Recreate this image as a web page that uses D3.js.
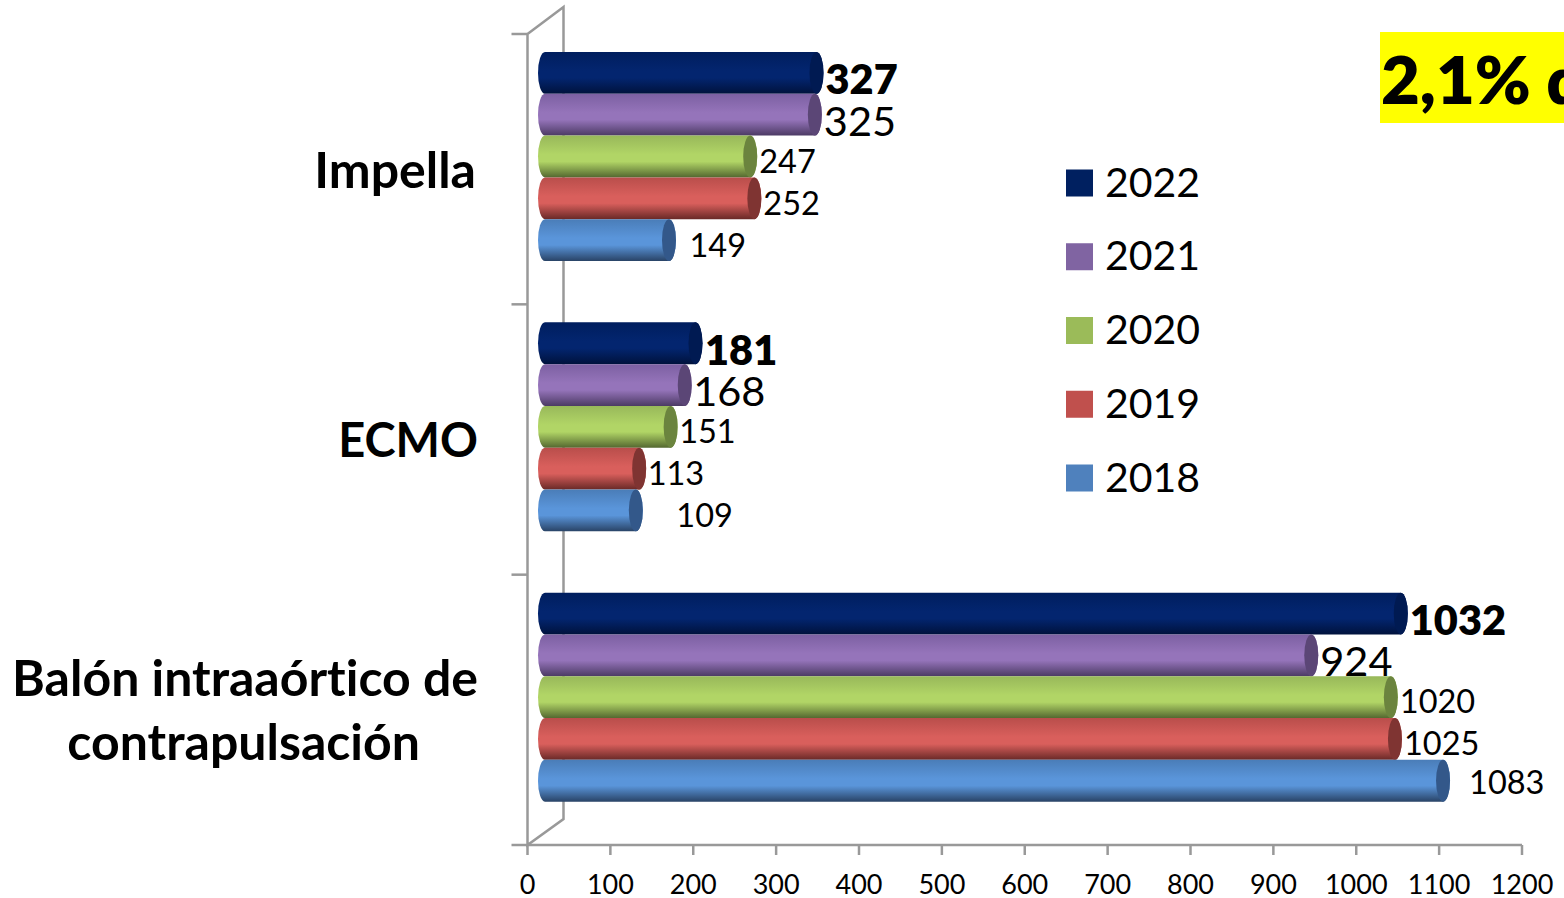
<!DOCTYPE html>
<html><head><meta charset="utf-8">
<script src="https://cdn.jsdelivr.net/npm/d3@7"></script>
<style>html,body{margin:0;padding:0;background:#fff;overflow:hidden}svg{display:block}text{font-family:Lato,"Open Sans",sans-serif;fill:#000;font-variant-ligatures:none}</style>
</head><body><svg id="c" width="1564" height="898"></svg>
<script>
const categories = ["Impella", "ECMO", "Balón intraaórtico de contrapulsación"];
const years = ["2022", "2021", "2020", "2019", "2018"];
const v2022 = [327, 181, 1032];
const v2021 = [325, 168, 924];
const v2020 = [247, 151, 1020];
const v2019 = [252, 113, 1025];
const v2018 = [149, 109, 1083];
const xTicks = [0,100,200,300,400,500,600,700,800,900,1000,1100,1200];
const seriesValues = [v2022, v2021, v2020, v2019, v2018];

const legendColors = ["#002060","#8064A2","#9BBB59","#C0504D","#4F81BD"];
const bodyStops = [
  ["#001e5e","#03256f","#00123c"],
  ["#7c60a2","#9574ba","#4c3a64"],
  ["#98b85a","#b1d566","#546830"],
  ["#b94e4b","#d95f5c","#692927"],
  ["#4a7db8","#5a95da","#294366"]];
const capColors = ["#001a52","#5b4676","#6b843e","#7f3432","#33588a"];
// per-label text styling and hand placement [dx from bar end, baseline dy from bar centre]
const labelSize = [41.5,41.5,32.5,32.5,32.5];
const labelWeight = [800,400,400,400,400];
const labelNudge = [
  [[2,21],[2,21],[2,16],[2,17],[13.5,17]],
  [[2.5,22],[1.5,21],[1.5,16],[1.5,16.5],[33.5,16.5]],
  [[2,21],[2,21],[2,16],[2,16.5],[19,13]]];

const svg = d3.select("#c");
const x = d3.scaleLinear().domain([0,1200]).range([527.5,1522]);
const y = d3.scaleBand().domain(categories).range([34,845]);
const inner = d3.scaleBand().domain(years).range([0,209]);
const groupShift = 18;   // bars sit this far below the band top
const rx = 7, xStart = 17.5, xEnd = 18;

// gradients
const defs = svg.append("defs");
years.forEach((yr,i)=>{
  const g = defs.append("linearGradient").attr("id","g"+yr).attr("x1",0).attr("x2",0).attr("y1",0).attr("y2",1);
  [[0,bodyStops[i][0]],[.45,bodyStops[i][1]],[.62,bodyStops[i][1]],[1,bodyStops[i][2]]].forEach(([o,c])=>
    g.append("stop").attr("offset",o).attr("stop-color",c));
});

// frame
const grey = "#999";
const frame = svg.append("g").attr("fill","none").attr("stroke",grey).attr("stroke-width",2.5);
const x0 = x(0), yT = y.range()[0], yB = y.range()[1], depthX = 36;
frame.append("path").attr("d",`M${x0},${yT}L${x0+depthX},${yT-27}V${yB-26}L${x0},${yB}Z`);
frame.append("path").attr("d",`M${x0},${yB}H${x(1200)}`);
[...categories.map(c=>y(c)), yB].forEach(t=>
  frame.append("line").attr("x1",x0-16).attr("x2",x0).attr("y1",t).attr("y2",t));
xTicks.forEach(t=>
  frame.append("line").attr("x1",x(t)).attr("x2",x(t)).attr("y1",yB).attr("y2",yB+10));

// x labels
svg.append("g").selectAll("text").data(xTicks).join("text")
  .attr("x",d=>x(d)).attr("y",893.5).attr("text-anchor","middle").attr("font-size",27).text(d=>d);

// bars
const bars = svg.append("g");
years.forEach((yr,si)=>{
  categories.forEach((cat,ci)=>{
    const v = seriesValues[si][ci];
    const top = y(cat)+groupShift+inner(yr), h = inner.bandwidth(), ry = h/2;
    const L = x(0)+xStart, R = x(v)+xEnd;
    bars.append("path")
      .attr("d",`M${L},${top}H${R}A${rx},${ry} 0 0 1 ${R},${top+h}H${L}A${rx},${ry} 0 0 1 ${L},${top}Z`)
      .attr("fill",`url(#g${yr})`);
    bars.append("ellipse").attr("cx",R).attr("cy",top+ry).attr("rx",rx).attr("ry",ry).attr("fill",capColors[si]);
  });
});

// data labels
const labels = svg.append("g");
years.forEach((yr,si)=>{
  categories.forEach((cat,ci)=>{
    const v = seriesValues[si][ci];
    const top = y(cat)+groupShift+inner(yr), h = inner.bandwidth();
    const [dx,dy] = labelNudge[ci][si];
    labels.append("text").attr("x",x(v)+xEnd+rx+dx).attr("y",top+h/2+dy)
      .attr("font-size",labelSize[si]).attr("font-weight",labelWeight[si]).text(v);
  });
});

// category labels
const catLines = [["Impella"],["ECMO"],["Balón intraaórtico de","contrapulsación"]];
const catX = [476,478,478], catY = [[188],[457],[696,760]], catSize = [50,47,50];
catLines.forEach((ls,i)=>ls.forEach((l,j)=>{
  svg.append("text").attr("x", j==1?420:catX[i]).attr("y",catY[i][j]).attr("text-anchor","end")
    .attr("font-size",catSize[i]).attr("font-weight",700).text(l);
}));

// legend
const lg = svg.append("g");
const ly = d3.scalePoint().domain(years).range([183,478]);
years.forEach((yr,i)=>{
  lg.append("rect").attr("x",1066).attr("y",ly(yr)-13.5).attr("width",27).attr("height",27).attr("fill",legendColors[i]);
  lg.append("text").attr("x",1105).attr("y",ly(yr)+13.5).attr("font-size",41).text(yr);
});

// callout
svg.append("rect").attr("x",1380).attr("y",32).attr("width",184).attr("height",91).attr("fill","#ffff00");
svg.append("text").attr("x",1381).attr("y",104).attr("font-size",67).attr("font-weight",800).text("2,1% d");
</script></body></html>
